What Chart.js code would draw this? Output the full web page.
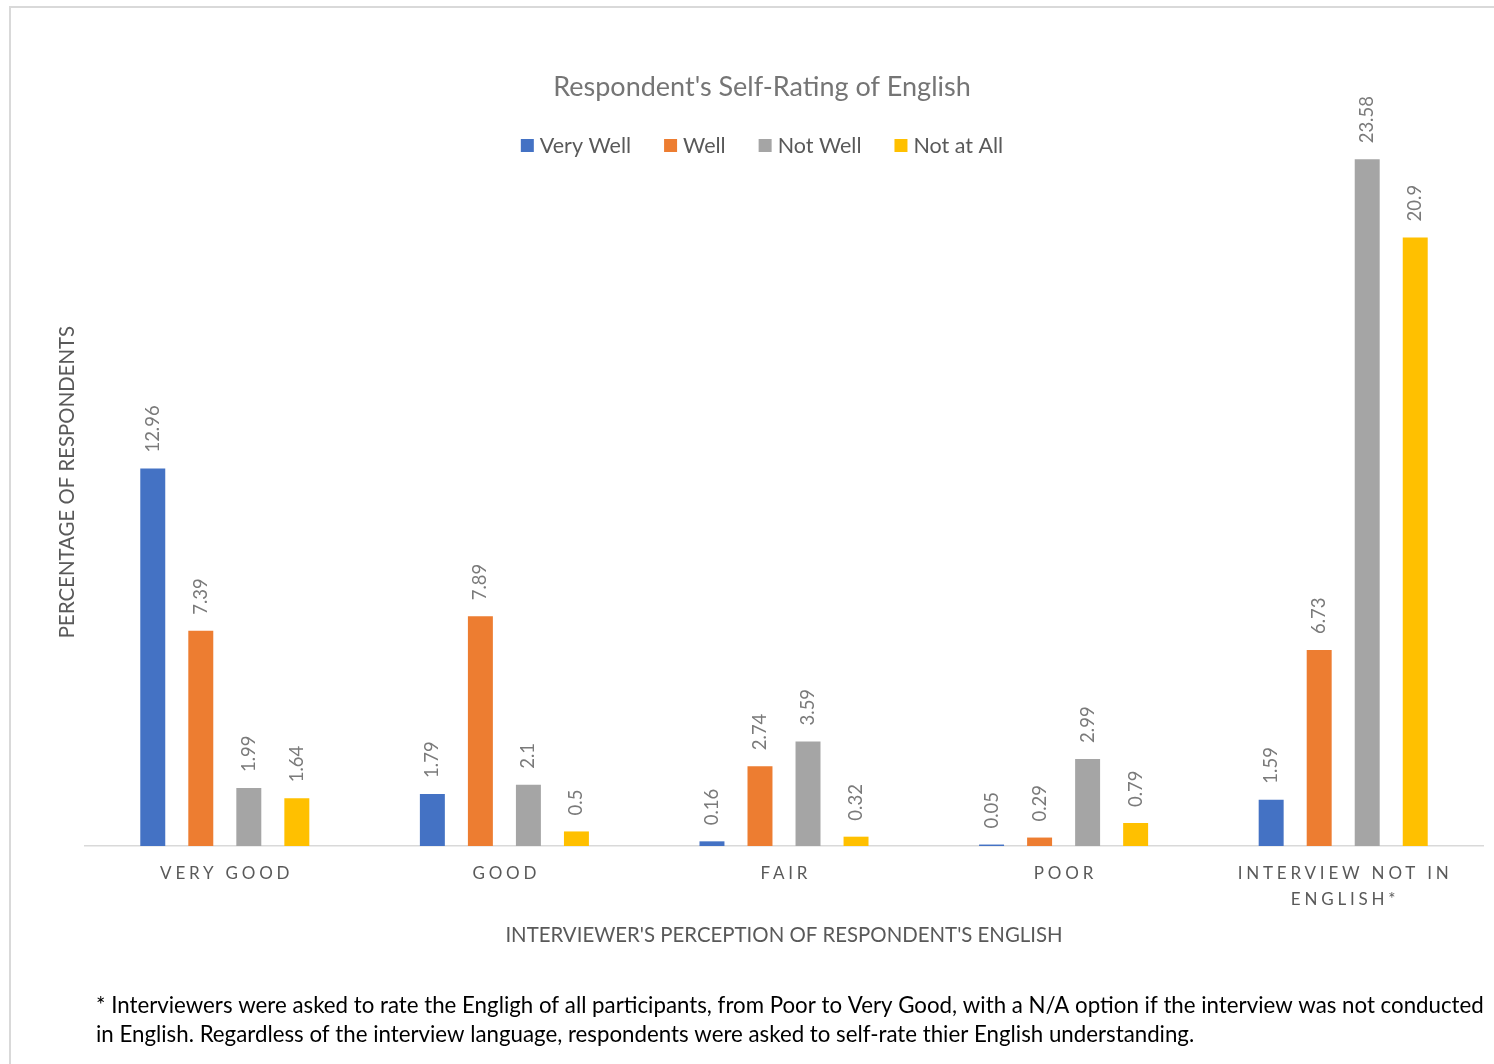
<!DOCTYPE html>
<html>
<head>
<meta charset="utf-8">
<script src="https://cdn.jsdelivr.net/npm/chart.js@4/dist/chart.umd.min.js"></script>
<style>
  html, body { margin: 0; padding: 0; background: #ffffff; overflow: hidden; }
  #wrap { position: relative; width: 1494px; height: 1064px; }
</style>
</head>
<body>
<div id="wrap"><canvas id="c"></canvas></div>
<script>
const categories = ['VERY GOOD', 'GOOD', 'FAIR', 'POOR', ['INTERVIEW NOT IN', 'ENGLISH*']];
const seriesNames = ['Very Well', 'Well', 'Not Well', 'Not at All'];
const veryWell = [12.96, 1.79, 0.16, 0.05, 1.59];
const well     = [7.39, 7.89, 2.74, 0.29, 6.73];
const notWell  = [1.99, 2.1, 3.59, 2.99, 23.58];
const notAtAll = [1.64, 0.5, 0.32, 0.79, 20.9];
const seriesColors = ['#4472C4', '#ED7D31', '#A5A5A5', '#FFC000'];
const chartTitle = "Respondent's Self-Rating of English";
const xTitle = "INTERVIEWER'S PERCEPTION OF RESPONDENT'S ENGLISH";
const yTitle = 'PERCENTAGE OF RESPONDENTS';
const footnote = [
  '* Interviewers were asked to rate the Engligh of all participants, from Poor to Very Good, with a N/A option if the interview was not conducted',
  'in English. Regardless of the interview language, respondents were asked to self-rate thier English understanding.'
];

const FONT = 'Lato, "Open Sans", sans-serif';
const HEAD_CX = 762;

const decor = {
  id: 'decor',
  beforeDraw(chart) {
    const ctx = chart.ctx;
    ctx.save();
    ctx.fillStyle = '#d9d9d9';
    ctx.fillRect(9, 6, 1485, 2);
    ctx.fillRect(9, 6, 2, 1058);
    ctx.restore();
  },
  afterDatasetsDraw(chart) {
    const ctx = chart.ctx;
    ctx.save();
    ctx.font = '18.5px ' + FONT;
    ctx.fillStyle = '#7a7a7a';
    ctx.textAlign = 'left';
    ctx.textBaseline = 'middle';
    chart.data.datasets.forEach((ds, di) => {
      const meta = chart.getDatasetMeta(di);
      meta.data.forEach((bar, i) => {
        ctx.save();
        ctx.translate(bar.x, bar.y - 16);
        ctx.rotate(-Math.PI / 2);
        ctx.fillText(String(ds.data[i]), 0, 0);
        ctx.restore();
      });
    });
    ctx.restore();
  },
  afterDraw(chart) {
    const ctx = chart.ctx;
    const area = chart.chartArea;
    ctx.save();
    // title
    ctx.font = '27px ' + FONT;
    ctx.fillStyle = '#757575';
    ctx.textAlign = 'center';
    ctx.textBaseline = 'middle';
    ctx.fillText(chartTitle, HEAD_CX, 87);
    // legend
    ctx.font = '21.5px ' + FONT;
    ctx.textBaseline = 'middle';
    ctx.textAlign = 'left';
    const box = 13, gapBox = 6, gapItem = 33;
    const items = chart.data.datasets.map(d => ({ text: d.label, color: d.backgroundColor }));
    let total = 0;
    items.forEach((it, i) => { it.w = box + gapBox + ctx.measureText(it.text).width; total += it.w + (i ? gapItem : 0); });
    let lx = HEAD_CX - total / 2;
    const ly = 146;
    items.forEach(it => {
      ctx.fillStyle = it.color;
      ctx.fillRect(lx, ly - 7, box, box);
      ctx.fillStyle = '#595959';
      ctx.fillText(it.text, lx + box + gapBox, ly);
      lx += it.w + gapItem;
    });
    // x tick labels
    const xs = chart.scales.x;
    ctx.font = '17px ' + FONT;
    ctx.fillStyle = '#595959';
    ctx.textAlign = 'center';
    ctx.letterSpacing = '3.8px';
    chart.data.labels.forEach((lab, i) => {
      const lines = Array.isArray(lab) ? lab : [lab];
      const x = xs.getPixelForTick(i);
      lines.forEach((ln, k) => ctx.fillText(ln, x + 1.9, 874 + k * 26));
    });
    ctx.letterSpacing = '0px';
    // axis titles
    ctx.font = '20.4px ' + FONT;
    ctx.fillStyle = '#595959';
    ctx.fillText(xTitle, (area.left + area.right) / 2, 935);
    ctx.save();
    ctx.translate(67, (area.top + area.bottom) / 2);
    ctx.rotate(-Math.PI / 2);
    ctx.fillText(yTitle, 0, 0);
    ctx.restore();
    // footnote
    ctx.font = '20px ' + FONT;
    const w = ctx.measureText(footnote[0]).width;
    const fs = 20 * 1388 / w;
    ctx.font = fs.toFixed(2) + 'px ' + FONT;
    ctx.fillStyle = '#000000';
    ctx.textAlign = 'left';
    ctx.fillText(footnote[0], 96, 1006);
    ctx.fillText(footnote[1], 96, 1035);
    ctx.restore();
  }
};

const datasets = [veryWell, well, notWell, notAtAll].map((d, i) => ({
  label: seriesNames[i],
  data: d,
  backgroundColor: seriesColors[i],
  borderWidth: 0,
  categoryPercentage: 0.687,
  barPercentage: 0.52
}));

new Chart(document.getElementById('c'), {
  type: 'bar',
  data: { labels: categories, datasets },
  options: {
    responsive: true,
    maintainAspectRatio: false,
    animation: false,
    layout: { padding: { left: 85, right: 11, top: 118, bottom: 210 } },
    plugins: {
      legend: { display: false },
      tooltip: { enabled: false },
      title: { display: false }
    },
    scales: {
      x: {
        display: true,
        grid: { display: false },
        ticks: { display: false },
        border: { display: true, color: '#d9d9d9', width: 1.5 }
      },
      y: {
        display: false,
        min: 0,
        max: 25
      }
    }
  },
  plugins: [decor]
});
</script>
</body>
</html>
